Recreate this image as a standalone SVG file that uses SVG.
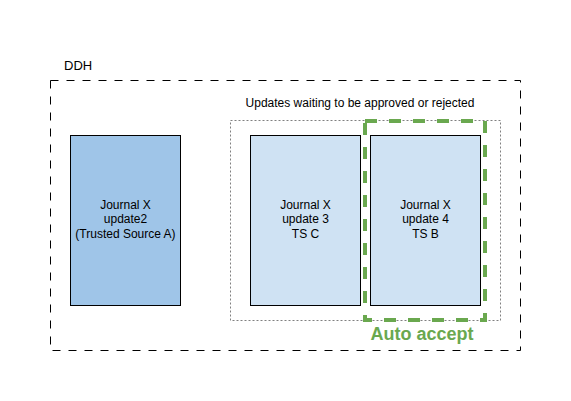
<svg xmlns="http://www.w3.org/2000/svg" width="571" height="401" viewBox="0 0 571 401">
<style>
text{font-family:"Liberation Sans",Arial,sans-serif;font-size:12px;fill:#000;text-anchor:middle}
.box{stroke:#000;stroke-width:1}
</style>
<rect width="571" height="401" fill="#fff"/>
<g id="ddh">
<rect x="50.5" y="80.5" width="470" height="270" fill="none" stroke="#000" stroke-dasharray="8 8"/>
<text x="64" y="70" style="text-anchor:start;font-size:13px">DDH</text>
</g>
<g id="waiting">
<rect x="230.5" y="120.5" width="270" height="200" fill="none" stroke="#808080" stroke-dasharray="2 2"/>
<text x="360" y="107">Updates waiting to be approved or rejected</text>
</g>
<g id="update2">
<rect class="box" x="70.5" y="135.5" width="110" height="170" fill="#9fc5e8"/>
<text x="125.5" y="209">Journal X</text>
<text x="125.5" y="223">update2</text>
<text x="125.5" y="238">(Trusted Source A)</text>
</g>
<g id="update3">
<rect class="box" x="250.5" y="135.5" width="110" height="170" fill="#cfe2f3"/>
<text x="305.5" y="209">Journal X</text>
<text x="305.5" y="223">update 3</text>
<text x="305.5" y="238">TS C</text>
</g>
<g id="update4">
<rect class="box" x="370.5" y="135.5" width="110" height="170" fill="#cfe2f3"/>
<text x="425.5" y="209">Journal X</text>
<text x="425.5" y="223">update 4</text>
<text x="425.5" y="238">TS B</text>
</g>
<g id="auto">
<rect x="365" y="121" width="120" height="199" fill="none" stroke="#6aa84f" stroke-width="4" stroke-dasharray="12 12"/>
<text x="422" y="340" style="font-size:18px;font-weight:bold;fill:#6aa84f">Auto accept</text>
</g>
<g id="connectors"></g>
</svg>
